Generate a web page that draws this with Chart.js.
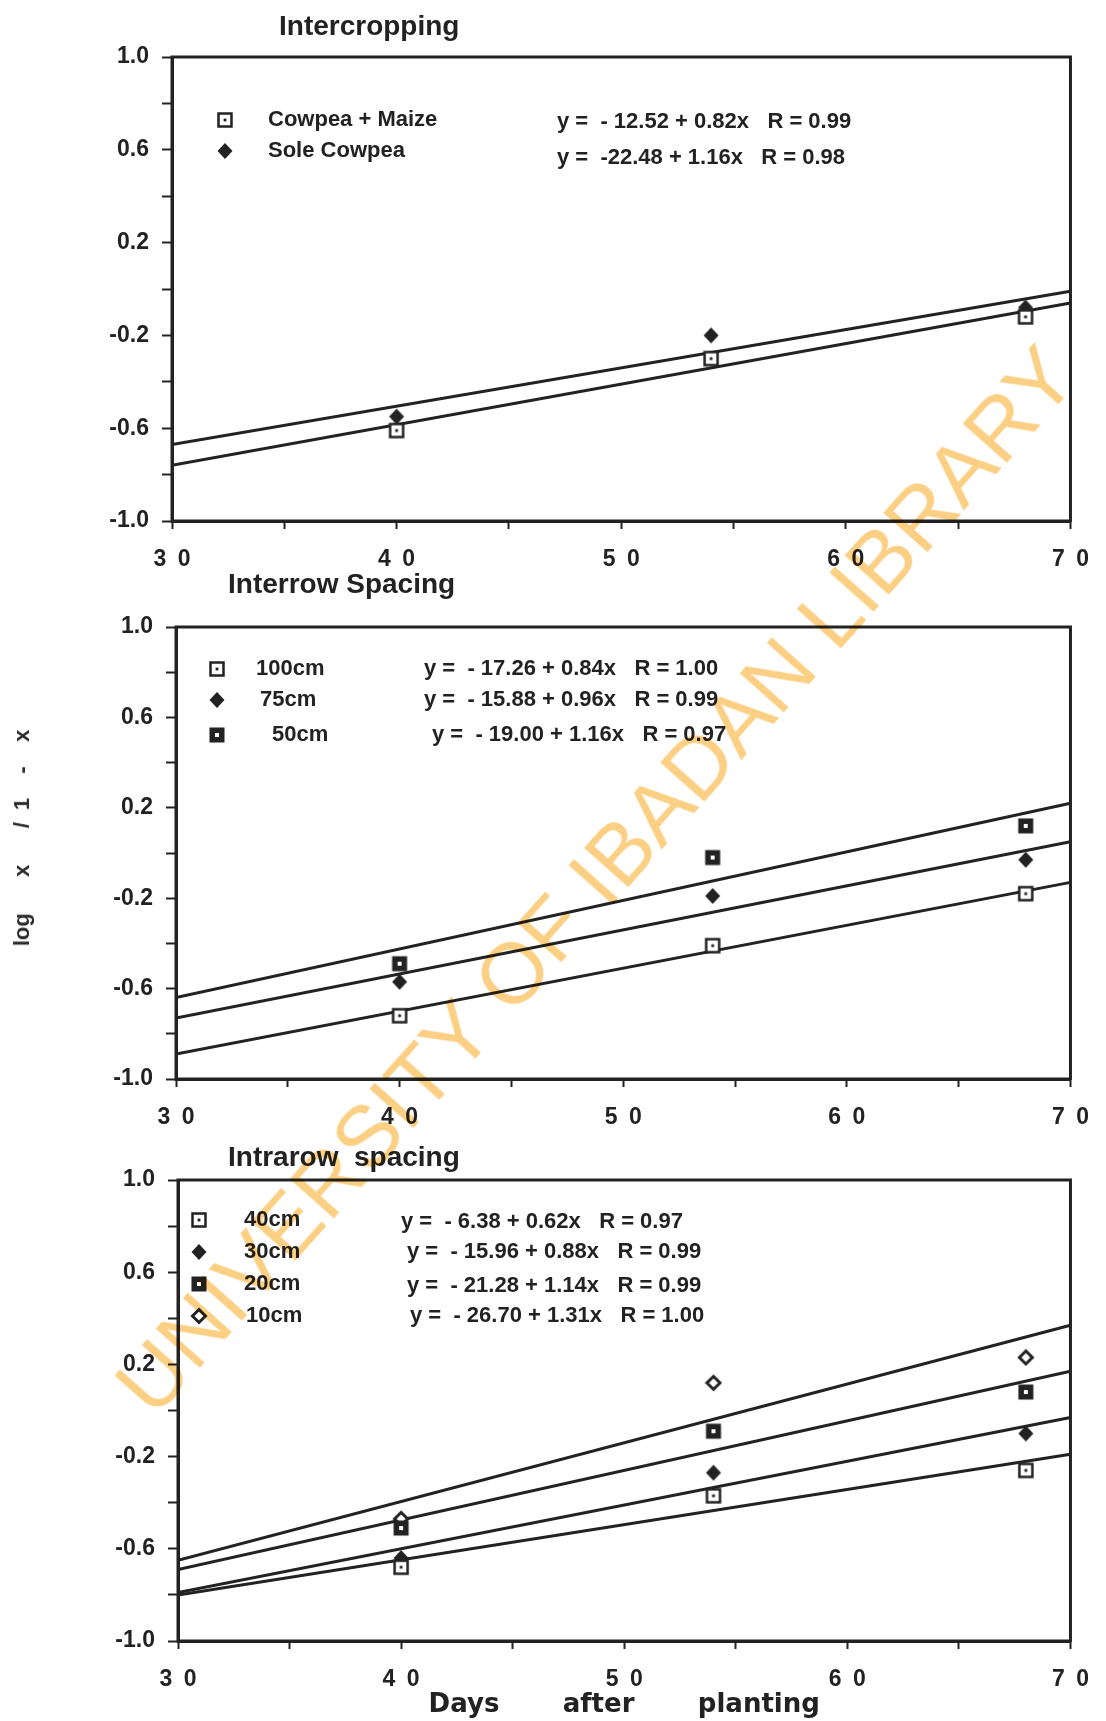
<!DOCTYPE html>
<html>
<head>
<meta charset="utf-8">
<title>log x/1-x against days after planting</title>
<script src="https://cdn.jsdelivr.net/npm/chart.js@4.4.1/dist/chart.umd.min.js"></script>
<style>
  html, body { margin: 0; padding: 0; background: #fff; }
  body { width: 1106px; height: 1721px; position: relative; overflow: hidden; }
  .panel { position: absolute; left: 0; }
  #yTitle {
    position: absolute; left: 22px; top: 838px;
    transform: translate(-50%, -50%) rotate(-90deg);
    font: bold 22px "Liberation Sans", Arial, sans-serif; color: #2a2a2a;
    white-space: pre; word-spacing: 6px;
  }
  #stamp {
    position: absolute; left: 595px; top: 880px;
    transform: translate(-50%, -50%) rotate(-48.3deg);
    font: 86px "Liberation Sans", Arial, sans-serif; color: #fbd084;
    white-space: nowrap; mix-blend-mode: multiply; pointer-events: none;
  }
</style>
</head>
<body>
<div class="panel" style="top:0"><canvas id="intercropping" width="1106" height="600"></canvas></div>
<div class="panel" style="top:560px"><canvas id="interrow" width="1106" height="580"></canvas></div>
<div class="panel" style="top:1125px"><canvas id="intrarow" width="1106" height="596"></canvas></div>
<div id="yTitle">log   x   / 1  -  x</div>
<div id="stamp">UNIVERSITY OF IBADAN LIBRARY</div>

<script>
// sampling days and the x range the fitted lines span
const days = [40, 54, 68];
const fitDays = [30, 70];
const xTickLabels = ['3 0', '4 0', '5 0', '6 0', '7 0'];
const yTickLabels = ['-1.0', '-0.6', '-0.2', '0.2', '0.6', '1.0'];

// Intercropping
const intercropLabels = ['Cowpea + Maize', 'Sole Cowpea'];
const intercropEquations = ['y =  - 12.52 + 0.82x   R = 0.99', 'y =  -22.48 + 1.16x   R = 0.98'];
const cowpeaMaize = [-0.61, -0.30, -0.12];
const soleCowpea = [-0.55, -0.20, -0.08];
const cowpeaMaizeFit = [-0.76, -0.06];
const soleCowpeaFit = [-0.67, -0.01];

// Interrow spacing
const interrowLabels = ['100cm', '75cm', '50cm'];
const interrowEquations = ['y =  - 17.26 + 0.84x   R = 1.00', 'y =  - 15.88 + 0.96x   R = 0.99', 'y =  - 19.00 + 1.16x   R = 0.97'];
const row100 = [-0.72, -0.41, -0.18];
const row75 = [-0.57, -0.19, -0.03];
const row50 = [-0.49, -0.02, 0.12];
const row100Fit = [-0.89, -0.13];
const row75Fit = [-0.73, 0.05];
const row50Fit = [-0.64, 0.22];

// Intrarow spacing
const intrarowLabels = ['40cm', '30cm', '20cm', '10cm'];
const intrarowEquations = ['y =  - 6.38 + 0.62x   R = 0.97', 'y =  - 15.96 + 0.88x   R = 0.99', 'y =  - 21.28 + 1.14x   R = 0.99', 'y =  - 26.70 + 1.31x   R = 1.00'];
const intra40 = [-0.68, -0.37, -0.26];
const intra30 = [-0.64, -0.27, -0.10];
const intra20 = [-0.51, -0.09, 0.08];
const intra10 = [-0.47, 0.12, 0.23];
const intra40Fit = [-0.80, -0.19];
const intra30Fit = [-0.79, -0.03];
const intra20Fit = [-0.69, 0.17];
const intra10Fit = [-0.65, 0.37];

const ink = '#222';
const tickFont = { family: '"Liberation Sans", Arial, sans-serif', size: 23, weight: 'bold' };
const textFamily = '"Liberation Sans", Arial, sans-serif';

// little canvases used as point styles
function marker(kind) {
  const c = document.createElement('canvas');
  c.width = 18; c.height = 18;
  const g = c.getContext('2d');
  g.fillStyle = '#fff';
  g.strokeStyle = ink;
  g.lineWidth = 2.5;
  if (kind === 'squareDot') {
    g.fillRect(2, 2, 14, 14);
    g.strokeRect(2.5, 2.5, 13, 13);
    g.fillStyle = ink;
    g.fillRect(7.6, 7.6, 2.8, 2.8);
  } else if (kind === 'squareBox') {
    g.fillStyle = ink;
    g.fillRect(1.5, 1.5, 15, 15);
    g.fillStyle = '#fff';
    g.fillRect(7, 7, 4, 4);
  } else if (kind === 'diamond') {
    g.fillStyle = ink;
    g.beginPath();
    g.moveTo(9, 1); g.lineTo(16.5, 9); g.lineTo(9, 17); g.lineTo(1.5, 9);
    g.closePath(); g.fill();
  } else {
    g.lineWidth = 3;
    g.beginPath();
    g.moveTo(9, 2.5); g.lineTo(15.5, 9); g.lineTo(9, 15.5); g.lineTo(2.5, 9);
    g.closePath(); g.fill(); g.stroke();
  }
  return c;
}

// box round the plot area
const frame = {
  id: 'frame',
  afterDatasetsDraw(chart) {
    const { ctx, chartArea: a } = chart;
    ctx.save();
    ctx.strokeStyle = ink;
    ctx.lineWidth = 3;
    ctx.strokeRect(a.left, a.top, a.right - a.left, a.bottom - a.top);
    ctx.restore();
  }
};

// panel heading plus the key with its regression equations
function keyBlock(p) {
  return {
    id: 'keyBlock',
    afterDraw(chart) {
      const ctx = chart.ctx;
      ctx.save();
      ctx.fillStyle = ink;
      ctx.textBaseline = 'alphabetic';
      ctx.font = 'bold 28px ' + textFamily;
      ctx.fillText(p.title, p.titleX, p.titleY);
      ctx.font = 'bold 22px ' + textFamily;
      ctx.textBaseline = 'middle';
      p.series.forEach((s, i) => {
        ctx.drawImage(s.marker, p.markerX - 9, p.rowY[i] - 9);
        ctx.fillText(s.label, p.labelX[i], p.rowY[i]);
        ctx.fillText(s.eq, p.eqX[i], p.eqY[i]);
      });
      ctx.restore();
    }
  };
}

function panelChart(id, p) {
  const datasets = [];
  p.series.forEach(s => {
    datasets.push({
      label: s.label,
      data: days.map((d, j) => ({ x: d, y: s.values[j] })),
      showLine: false,
      pointStyle: s.marker,
      pointRadius: 8,
      order: 0
    });
    datasets.push({
      label: s.label + ' fit',
      data: fitDays.map((d, j) => ({ x: d, y: s.fit[j] })),
      showLine: true,
      pointRadius: 0,
      borderColor: ink,
      borderWidth: 3,
      order: 1
    });
  });

  return new Chart(document.getElementById(id), {
    type: 'scatter',
    data: { datasets },
    options: {
      responsive: false,
      animation: false,
      events: [],
      layout: { padding: { top: p.top, right: p.right, left: 0, bottom: 0 } },
      plugins: { legend: { display: false }, tooltip: { enabled: false } },
      scales: {
        x: {
          type: 'linear', min: 30, max: 70,
          afterFit(s) { s.height = p.xAxisH; },
          border: { color: ink, width: 3 },
          grid: { drawOnChartArea: false, tickColor: ink, tickLength: 8, tickWidth: 2 },
          ticks: {
            stepSize: 5, autoSkip: false, maxRotation: 0, padding: 17,
            color: ink, font: tickFont,
            callback(v) {
              const k = (v - 30) / 10;
              return Number.isInteger(k) ? xTickLabels[k].replace(' ', '\u2002') : '';
            }
          },
          title: p.xTitle ? {
            display: true, text: p.xTitle, color: ink,
            font: { family: '"DejaVu Sans", sans-serif', size: 26, weight: 'bold' },
            padding: { top: 0, bottom: 0 }
          } : { display: false }
        },
        y: {
          type: 'linear', min: -1, max: 1,
          afterFit(s) { s.width = p.left; },
          border: { color: ink, width: 3 },
          grid: { drawOnChartArea: false, tickColor: ink, tickLength: 10, tickWidth: 2 },
          ticks: {
            stepSize: 0.2, autoSkip: false, padding: 13,
            color: ink, font: tickFont,
            callback(v) {
              const s = (Math.round(v * 10) / 10).toFixed(1);
              return yTickLabels.includes(s) ? s : '';
            }
          }
        }
      }
    },
    plugins: [frame, keyBlock(p)]
  });
}

const sqDot = marker('squareDot');
const sqBox = marker('squareBox');
const dia = marker('diamond');
const diaOpen = marker('diamondOpen');

panelChart('intercropping', {
  title: 'Intercropping', titleX: 279, titleY: 35,
  top: 57, right: 26, left: 172, xAxisH: 79,
  markerX: 225, labelX: [268, 268], rowY: [120, 151], eqX: [557, 557], eqY: [122, 158],
  series: [
    { label: intercropLabels[0], eq: intercropEquations[0], values: cowpeaMaize, fit: cowpeaMaizeFit, marker: sqDot },
    { label: intercropLabels[1], eq: intercropEquations[1], values: soleCowpea, fit: soleCowpeaFit, marker: dia }
  ]
});

panelChart('interrow', {
  title: 'Interrow Spacing', titleX: 228, titleY: 33,
  top: 67, right: 23, left: 176, xAxisH: 61,
  markerX: 217, labelX: [256, 260, 272], rowY: [109, 140, 175], eqX: [424, 424, 432], eqY: [109, 140, 175],
  series: [
    { label: interrowLabels[0], eq: interrowEquations[0], values: row100, fit: row100Fit, marker: sqDot },
    { label: interrowLabels[1], eq: interrowEquations[1], values: row75, fit: row75Fit, marker: dia },
    { label: interrowLabels[2], eq: interrowEquations[2], values: row50, fit: row50Fit, marker: sqBox }
  ]
});

panelChart('intrarow', {
  title: 'Intrarow  spacing', titleX: 228, titleY: 41,
  top: 55, right: 26, left: 178, xAxisH: 80,
  xTitle: 'Days       after       planting',
  markerX: 199, labelX: [244, 244, 244, 246], rowY: [95, 127, 159, 191], eqX: [401, 407, 407, 410], eqY: [97, 127, 161, 191],
  series: [
    { label: intrarowLabels[0], eq: intrarowEquations[0], values: intra40, fit: intra40Fit, marker: sqDot },
    { label: intrarowLabels[1], eq: intrarowEquations[1], values: intra30, fit: intra30Fit, marker: dia },
    { label: intrarowLabels[2], eq: intrarowEquations[2], values: intra20, fit: intra20Fit, marker: sqBox },
    { label: intrarowLabels[3], eq: intrarowEquations[3], values: intra10, fit: intra10Fit, marker: diaOpen }
  ]
});
</script>
</body>
</html>
